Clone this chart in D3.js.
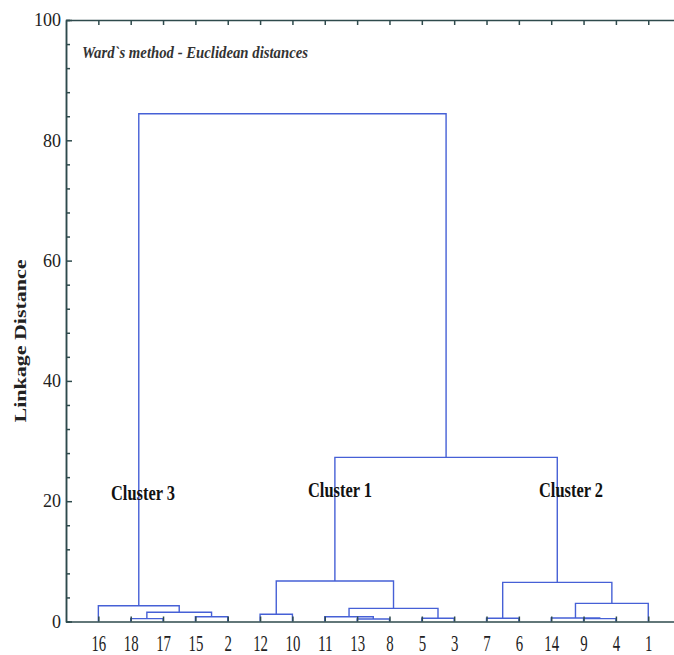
<!DOCTYPE html>
<html>
<head>
<meta charset="utf-8">
<script src="https://cdn.jsdelivr.net/npm/d3@7"></script>
<style>
  body { margin: 0; background: #fff; }
  svg { display: block; }
</style>
</head>
<body>
<svg width="674" height="655"></svg>
<script>
// leaf order along the x axis
const leaves = ["16","18","17","15","2","12","10","11","13","8","5","3","7","6","14","9","4","1"]

// merges: [left, right, linkage distance]; names m1..m17 in order
const merges = [
    ["18", "17", 0.47],
    ["15", "2", 0.8],
    ["m1", "m2", 1.53],
    ["16", "m3", 2.62],
    ["12", "10", 1.2],
    ["13", "8", 0.42],
    ["11", "m6", 0.8],
    ["5", "3", 0.53],
    ["m7", "m8", 2.19],
    ["m5", "m9", 6.73],
    ["7", "6", 0.53],
    ["9", "4", 0.47],
    ["14", "m12", 0.58],
    ["m13", "1", 3.02],
    ["m11", "m14", 6.51],
    ["m10", "m15", 27.28],
    ["m4", "m16", 84.42]
]

const yMajor = [0, 20, 40, 60, 80, 100]
const yMinor = d3.range(0, 101, 4).filter(v => v % 20 !== 0)

const clusterLabels = ["Cluster 3", "Cluster 1", "Cluster 2"]

const svg = d3.select("svg")
const serif = "'Liberation Serif', 'Times New Roman', serif"
const axisColor = "#2e4a4c"
const lineColor = "#4660d6"

const x = d3.scalePoint().domain(leaves).range([66, 680.6]).padding(1)
const y = d3.scaleLinear().domain([0, 100]).range([621.5, 20])

// node positions
const pos = {}
leaves.forEach(l => pos[l] = {x: x(l), h: 0})
merges.forEach((m, i) => {
    const a = pos[m[0]], b = pos[m[1]]
    pos["m" + (i + 1)] = {x: (a.x + b.x) / 2, h: m[2]}
})

// dendrogram links
svg.append("g")
    .selectAll("path")
    .data(merges)
    .enter()
    .append("path")
    .attr("fill", "none")
    .attr("stroke", lineColor)
    .attr("stroke-width", 1.4)
    .attr("d", m => {
        const a = pos[m[0]], b = pos[m[1]]
        return "M" + a.x + "," + y(a.h) + "V" + y(m[2]) + "H" + b.x + "V" + y(b.h)
    })

// left axis
const leftAxis = svg.append("g").attr("transform", "translate(66,0)")
leftAxis.call(d3.axisLeft(y).tickValues(yMajor).tickSizeInner(-6).tickSizeOuter(0).tickPadding(5))
leftAxis.append("g").call(d3.axisLeft(y).tickValues(yMinor).tickSize(-4).tickFormat(""))
leftAxis.selectAll("text").attr("font-family", serif).attr("font-size", 18).attr("fill", "#222")

// bottom axis
const bottomAxis = svg.append("g").attr("transform", "translate(0,621.5)")
bottomAxis.call(d3.axisBottom(x).tickSizeInner(-5).tickSizeOuter(0))
bottomAxis.selectAll("text")
    .attr("y", 0).attr("dy", 0)
    .attr("transform", "translate(0,29)")
    .attr("font-family", serif).attr("font-size", 23).attr("fill", "#222")
    .attr("textLength", d => d.length * 7.4)
    .attr("lengthAdjust", "spacingAndGlyphs")

// top axis
const topAxis = svg.append("g").attr("transform", "translate(0,20)")
topAxis.call(d3.axisTop(x).tickSizeInner(-5).tickSizeOuter(0).tickFormat(""))

svg.selectAll(".domain, .tick line")
    .attr("stroke", axisColor)
    .attr("stroke-width", 1.5)

// y title
svg.append("text")
    .attr("transform", "translate(26,341) rotate(-90)")
    .attr("text-anchor", "middle")
    .attr("font-family", serif)
    .attr("font-weight", "bold")
    .attr("font-size", 17)
    .attr("fill", "#222")
    .attr("textLength", 163)
    .attr("lengthAdjust", "spacingAndGlyphs")
    .text("Linkage Distance")

// subtitle
svg.append("text")
    .attr("x", 82)
    .attr("y", 58)
    .attr("font-family", serif)
    .attr("font-style", "italic")
    .attr("font-weight", "bold")
    .attr("font-size", 16)
    .attr("fill", "#333")
    .attr("textLength", 226)
    .attr("lengthAdjust", "spacingAndGlyphs")
    .text("Ward`s method - Euclidean distances")

// cluster labels
const labelBase = [500, 497, 497]
const labelX = [143, 340, 571]
svg.append("g")
    .selectAll("text")
    .data(clusterLabels)
    .enter()
    .append("text")
    .attr("x", (d, i) => labelX[i] - 32)
    .attr("y", (d, i) => labelBase[i])
    .attr("font-family", serif)
    .attr("font-weight", "bold")
    .attr("font-size", 21)
    .attr("fill", "#111")
    .attr("textLength", 64)
    .attr("lengthAdjust", "spacingAndGlyphs")
    .text(d => d)
</script>
</body>
</html>
